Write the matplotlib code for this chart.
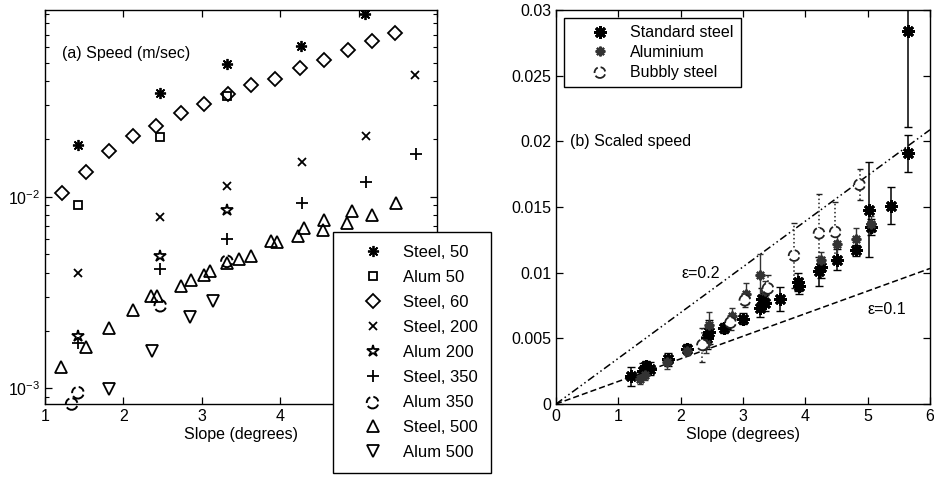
"""Recreate the two-panel slope/speed figure (log speed and scaled speed)."""

import matplotlib

matplotlib.use("Agg")

import matplotlib.pyplot as plt
import numpy as np

plt.rcParams["font.family"] = ["Liberation Sans", "DejaVu Sans"]
plt.rcParams["font.size"] = 11.5

# ---- panel (a): speed (m/sec) against slope, one series per run type ----
steel50_x = [1.42, 2.47, 3.32, 4.27, 5.08]
steel50_y = [0.0185, 0.0349, 0.0493, 0.0611, 0.0897]

alum50_x = [1.42, 2.47, 3.32]
alum50_y = [0.0090, 0.0204, 0.0333]

steel60_x = [1.22, 1.52, 1.81, 2.12, 2.42, 2.73, 3.03, 3.33, 3.63, 3.94,
             4.25, 4.56, 4.86, 5.17, 5.47]
steel60_y = [0.01045, 0.0134, 0.0174, 0.0206, 0.0234, 0.0273, 0.0305, 0.0344,
             0.0380, 0.0412, 0.0468, 0.0517, 0.0584, 0.0645, 0.0711]

steel200_x = [1.42, 2.47, 3.32, 4.28, 5.09, 5.72]
steel200_y = [0.0040, 0.0078, 0.0113, 0.0151, 0.0208, 0.0431]

alum200_x = [1.42, 2.47, 3.32]
alum200_y = [0.00187, 0.0049, 0.0085]

steel350_x = [1.42, 2.47, 3.32, 4.28, 5.09, 5.73]
steel350_y = [0.00172, 0.0042, 0.0060, 0.0093, 0.0119, 0.0166]

alum350_x = [1.34, 1.42, 2.47, 3.32]
alum350_y = [0.00083, 0.00095, 0.0027, 0.0046]

steel500_x = [1.21, 1.52, 1.82, 2.12, 2.35, 2.43, 2.73, 2.86, 3.03, 3.10,
              3.32, 3.47, 3.63, 3.88, 3.96, 4.23, 4.30, 4.55, 4.56, 4.85,
              4.92, 5.17, 5.48]
steel500_y = [0.00129, 0.00165, 0.00207, 0.00255, 0.00303, 0.00303, 0.00344,
              0.00366, 0.00389, 0.00408, 0.00452, 0.00474, 0.00493, 0.00585,
              0.00580, 0.00626, 0.00687, 0.00673, 0.00759, 0.00729, 0.00839,
              0.00806, 0.00927]

alum500_x = [1.81, 2.36, 2.85, 3.14]
alum500_y = [0.00099, 0.00156, 0.00235, 0.00285]

# ---- panel (b): scaled speed with error bars ----
std_x = [1.21, 1.40, 1.45, 1.50, 1.80, 2.10, 2.42, 2.45, 2.70, 3.00, 3.28,
         3.30, 3.35, 3.60, 3.88, 3.90, 4.22, 4.25, 4.50, 4.82, 5.02, 5.05,
         5.38, 5.65, 5.65]
std_y = [0.0021, 0.0025, 0.0029, 0.0027, 0.0034, 0.0042, 0.0050, 0.0055,
         0.0058, 0.0065, 0.0073, 0.0080, 0.0077, 0.0080, 0.0093, 0.0090,
         0.0101, 0.0104, 0.0110, 0.0117, 0.0148, 0.0135, 0.0151, 0.0284,
         0.0191]
std_err = [0.0007, 0.0006, 0.0004, 0.0005, 0.0005, 0.0004, 0.0008, 0.0009,
           0.0004, 0.0004, 0.0007, 0.0008, 0.0006, 0.0009, 0.0007, 0.0006,
           0.0011, 0.0008, 0.0008, 0.0004, 0.0036, 0.0006, 0.0014, 0.0073,
           0.0014]

alu_x = [1.35, 1.42, 1.78, 2.10, 2.40, 2.45, 2.83, 3.05, 3.28, 3.35, 4.25,
         4.50, 4.82, 5.05]
alu_y = [0.0019, 0.0022, 0.0032, 0.0040, 0.0046, 0.0060, 0.0067, 0.0084,
         0.0098, 0.0086, 0.0110, 0.0122, 0.0126, 0.0137]
alu_err = [0.0004, 0.0004, 0.0005, 0.0003, 0.0007, 0.0010, 0.0006, 0.0008,
           0.0016, 0.0008, 0.0006, 0.0010, 0.0008, 0.0006]

bub_x = [2.35, 2.80, 3.03, 3.40, 3.82, 4.22, 4.48, 4.87]
bub_y = [0.0045, 0.0062, 0.0079, 0.0088, 0.0113, 0.0130, 0.0131, 0.0167]
bub_err = [0.0013, 0.0006, 0.0005, 0.0010, 0.0025, 0.0030, 0.0023, 0.0012]

# bounding lines through the origin (epsilon = 0.2 and 0.1)
eps_labels = ["\u03b5=0.2", "\u03b5=0.1"]
eps_slopes = [0.00348, 0.00172]

ASTERISK = (8, 2, 0)


def _style_box(axis):
    axis.tick_params(which="both", direction="in", top=True, right=True)
    axis.tick_params(which="major", length=5, width=0.9)
    axis.tick_params(which="minor", length=3, width=0.8)
    for spine in axis.spines.values():
        spine.set_linewidth(1.0)


def _plot_speed(fig, axis):
    line_kw = dict(linestyle="none", color="black", markerfacecolor="none",
                   markeredgewidth=1.3)
    handles = []
    handles += axis.plot(steel50_x, steel50_y, marker=ASTERISK, ms=8,
                         label="Steel, 50", **line_kw)
    handles += axis.plot(alum50_x, alum50_y, marker="s", ms=5.5,
                         label="Alum 50", **line_kw)
    handles += axis.plot(steel60_x, steel60_y, marker="D", ms=7,
                         label="Steel, 60", **line_kw)
    handles += axis.plot(steel200_x, steel200_y, marker="x", ms=6,
                         label="Steel, 200", **line_kw)
    handles += axis.plot(alum200_x, alum200_y, marker="*", ms=9,
                         label="Alum 200", **line_kw)
    handles += axis.plot(steel350_x, steel350_y, marker="+", ms=8,
                         label="Steel, 350", **line_kw)
    handles.append(axis.scatter(alum350_x, alum350_y, s=70, marker="o",
                                facecolors="none", edgecolors="black",
                                linewidths=1.4, linestyles="--",
                                label="Alum 350", clip_on=False))
    handles += axis.plot(steel500_x, steel500_y, marker="^", ms=8,
                         label="Steel, 500", **line_kw)
    handles += axis.plot(alum500_x, alum500_y, marker="v", ms=8,
                         label="Alum 500", **line_kw)

    axis.set_yscale("log")
    axis.set_xlim(1, 6)
    axis.set_ylim(8.3e-4, 0.094)
    # labels 5 and 6 sit under the legend box in the original
    axis.set_xticks([1, 2, 3, 4, 5, 6])
    axis.set_xticklabels(["1", "2", "3", "4", "", ""])
    axis.set_xlabel("Slope (degrees)", labelpad=2)
    axis.text(0.043, 0.89, "(a) Speed (m/sec)", transform=axis.transAxes,
              ha="left", va="center")
    _style_box(axis)

    fig.legend(handles=handles, loc="upper left",
               bbox_to_anchor=(333 / 934, 1 - 232 / 479),
               bbox_transform=fig.transFigure, frameon=True, fancybox=False,
               edgecolor="black", framealpha=1, labelspacing=0.6,
               handletextpad=0.22, borderpad=0.78, borderaxespad=0,
               handlelength=3.19, fontsize=12)


def _plot_scaled(axis):
    xs = np.array([0, 6])
    axis.plot(xs, eps_slopes[0] * xs, color="black",
              linestyle=(0, (5, 2, 1, 2, 1, 2)), linewidth=1.1)
    axis.plot(xs, eps_slopes[1] * xs, color="black", linestyle=(0, (4, 2)),
              linewidth=1.1)

    axis.errorbar(std_x, std_y, yerr=std_err, fmt="none", ecolor="black",
                  elinewidth=1.1, capsize=3)
    axis.errorbar(alu_x, alu_y, yerr=alu_err, fmt="none", ecolor="#333333",
                  elinewidth=1.0, capsize=2.5)
    eb = axis.errorbar(bub_x, bub_y, yerr=bub_err, fmt="none", ecolor="#222222",
                       elinewidth=1.1, capsize=2)
    for col in eb[2]:
        col.set_linestyle(":")

    h_std, = axis.plot(std_x, std_y, linestyle="none", marker=ASTERISK, ms=9,
                       color="black", markeredgewidth=2.0,
                       label="Standard steel")
    h_alu, = axis.plot(alu_x, alu_y, linestyle="none", marker=ASTERISK, ms=7,
                       color="#333333", markeredgewidth=1.6, label="Aluminium")
    h_bub = axis.scatter(bub_x, bub_y, s=60, marker="o", facecolors="white",
                         edgecolors="#222222", linewidths=1.3, linestyles="--",
                         label="Bubbly steel", zorder=3)

    axis.text(2.02, 0.00995, eps_labels[0], ha="left", va="center")
    axis.text(5.0, 0.00723, eps_labels[1], ha="left", va="center")
    axis.text(0.22, 0.01995, "(b) Scaled speed", ha="left", va="center")

    axis.set_xlim(0, 6)
    axis.set_ylim(0, 0.03)
    axis.set_xticks(range(7))
    axis.set_yticks([0, 0.005, 0.01, 0.015, 0.02, 0.025, 0.03])
    axis.set_yticklabels(["0", "0.005", "0.01", "0.015", "0.02", "0.025",
                          "0.03"])
    axis.set_xlabel("Slope (degrees)", labelpad=2)
    _style_box(axis)
    axis.legend(handles=[h_std, h_alu, h_bub], loc="upper left",
                bbox_to_anchor=(8 / 374, 1 - 8 / 394), frameon=True,
                fancybox=False, edgecolor="black", framealpha=1,
                labelspacing=0.3, handletextpad=0.1, borderpad=0.45,
                borderaxespad=0, handlelength=3.6, fontsize=11.5)


def main():
    fig = plt.figure(figsize=(9.34, 4.79), dpi=100)
    ax_a = fig.add_axes([45 / 934, 75 / 479, 392 / 934, 394 / 479])
    ax_b = fig.add_axes([556 / 934, 75 / 479, 374 / 934, 394 / 479])
    _plot_speed(fig, ax_a)
    _plot_scaled(ax_b)
    fig.savefig("out.png", dpi=100)
    plt.close(fig)


if __name__ == "__main__":
    main()
